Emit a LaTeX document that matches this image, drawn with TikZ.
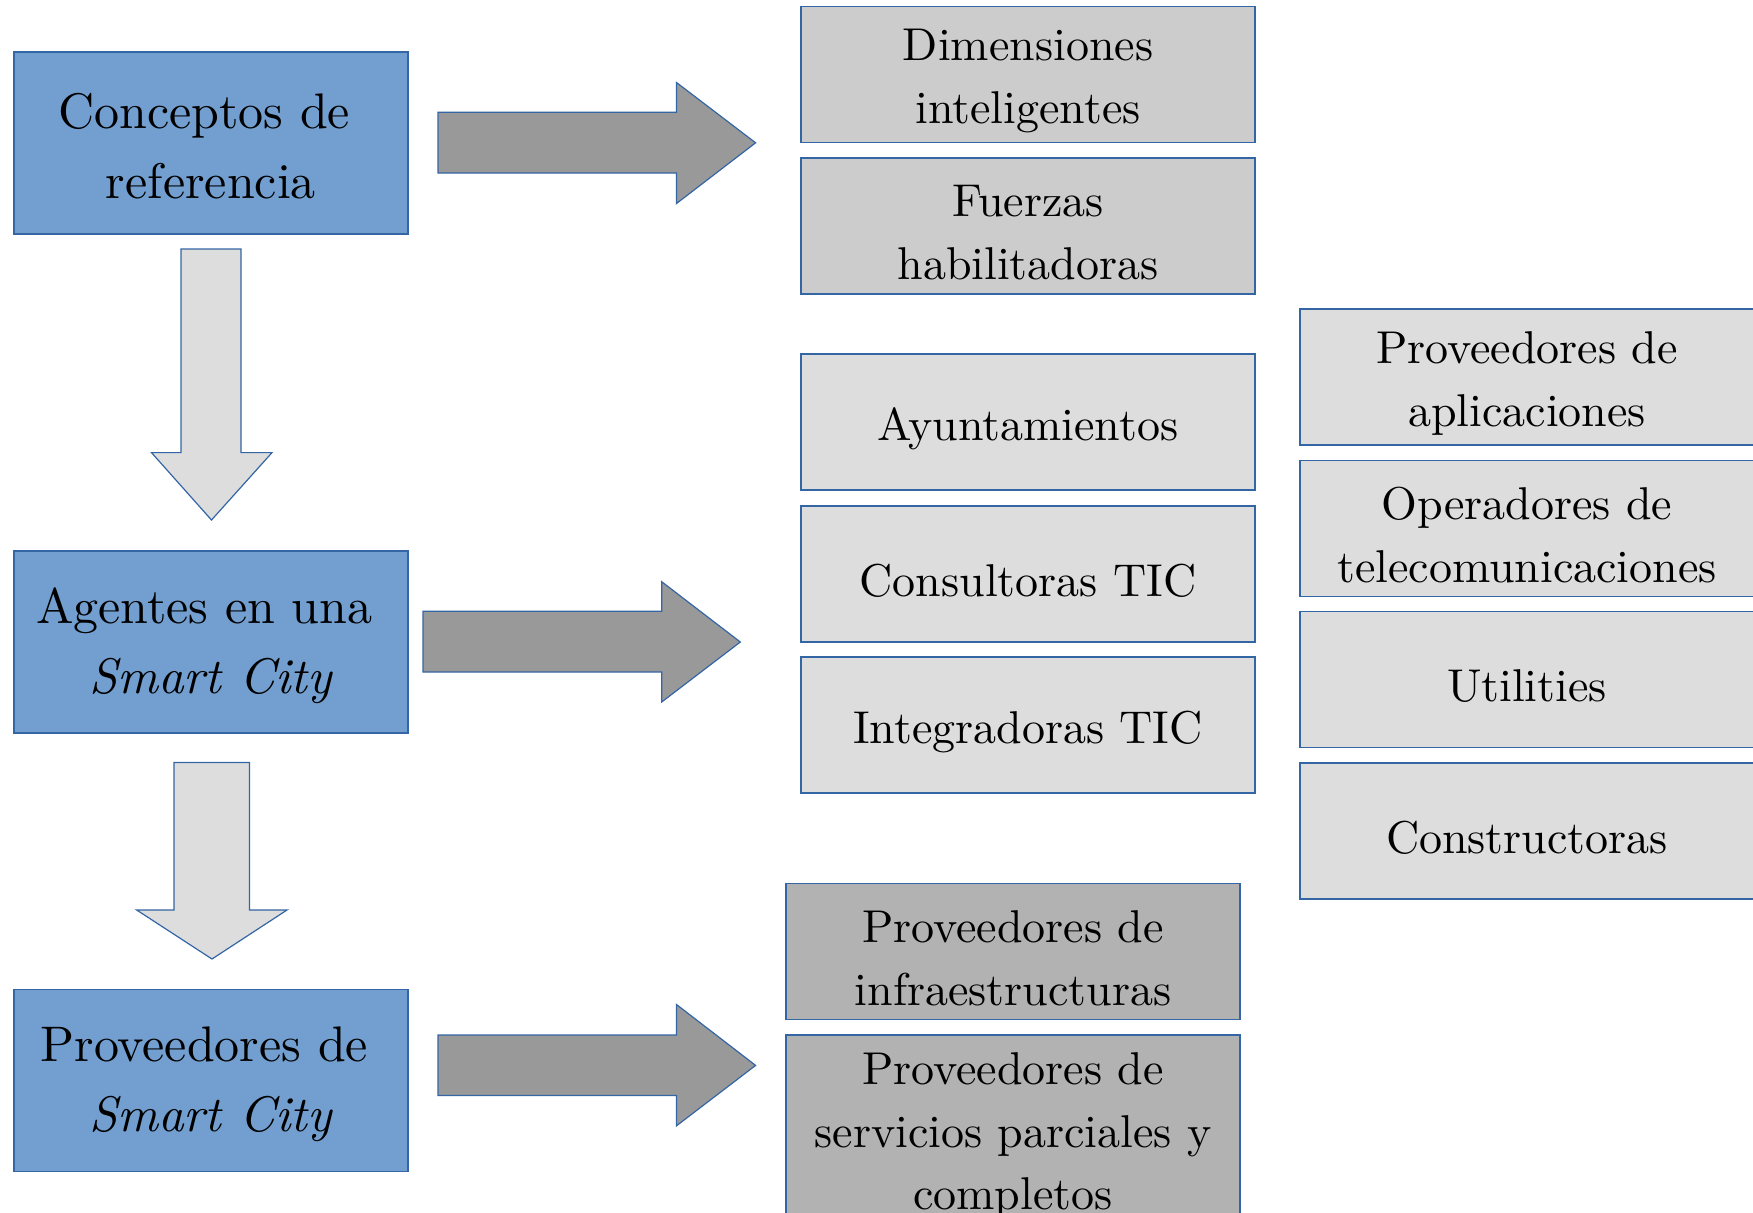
\documentclass[tikz,border=0pt]{standalone}
\usepackage{fontspec}
\setmainfont{lmroman10}[Extension=.otf, UprightFont=*-regular, ItalicFont=*-italic, BoldFont=*-bold]
\definecolor{bluefill}{HTML}{729FCF}
\definecolor{edge}{HTML}{3465A4}
\definecolor{darkarrow}{HTML}{999999}
\definecolor{lightgray}{HTML}{DDDDDD}
\definecolor{midgray}{HTML}{CCCCCC}
\definecolor{deepgray}{HTML}{B2B2B2}
\newcommand{\trail}{\hspace*{0.27em}}
\begin{document}
\begin{tikzpicture}[x=0.5pt,y=-0.5pt,
  box/.style={draw=edge, line width=0.6pt, inner sep=0pt, outer sep=0pt,
    minimum width=227pt, minimum height=68pt},
  bluebox/.style={box, fill=bluefill, minimum width=197pt, minimum height=91pt},
  txt/.style={inner sep=0pt, align=center, font=\fontsize{23}{31.3}\selectfont},
  bluetxt/.style={inner sep=0pt, align=center, font=\fontsize{25}{35}\selectfont},
  rarrow/.style={draw=edge, line width=0.6pt, fill=darkarrow, line join=miter},
  darrow/.style={draw=edge, line width=0.6pt, fill=lightgray, line join=miter}]
\useasboundingbox (0,0) rectangle (1753,1212);
\clip (0,0) rectangle (1753,1212);

% left column
\node[bluebox] (conc) at (211,143) {};
\node[bluetxt] (conct) at ([yshift=-1.7pt]conc.center) {Conceptos de\trail\\referencia};
\node[bluebox] (agen) at (211,642) {};
\node[bluetxt] (agent) at ([yshift=-1.7pt]agen.center) {Agentes en una\trail\\\textit{Smart City}};
\node[bluebox] (prov) at (211,1080.5) {};
\node[bluetxt] (provt) at ([yshift=-1.7pt]prov.center) {Proveedores de\trail\\\textit{Smart City}};

% down arrows
\draw[darrow] (181,249) -- (241,249) -- (241,452.6) -- (272,452.6) -- (211.5,520)
  -- (151.5,452.6) -- (181,452.6) -- cycle;
\draw[darrow] (174,762.5) -- (249.5,762.5) -- (249.5,910) -- (287,910) -- (212,959)
  -- (136.7,910) -- (174,910) -- cycle;

% right arrows
\draw[rarrow] (438,112.3) -- (676.5,112.3) -- (676.5,82.5) -- (755.6,142.8)
  -- (676.5,203.5) -- (676.5,173) -- (438,173) -- cycle;
\draw[rarrow] (423,611.3) -- (661.7,611.3) -- (661.7,581.7) -- (740.3,642)
  -- (661.7,702) -- (661.7,672) -- (423,672) -- cycle;
\draw[rarrow] (438,1035) -- (676.5,1035) -- (676.5,1004.5) -- (755.6,1065.4)
  -- (676.5,1125.8) -- (676.5,1095.4) -- (438,1095.4) -- cycle;

% middle column
\node[box, fill=midgray] (dim) at (1028,74.5) {};
\node[txt] (dimt) at ([yshift=-3.3pt]dim.center) {Dimensiones\\inteligentes};
\node[box, fill=midgray] (fue) at (1028,226) {};
\node[txt] (fuet) at ([yshift=-3.3pt]fue.center) {Fuerzas\\habilitadoras};
\node[box, fill=lightgray] (ayu) at (1028,422) {};
\node[txt] (ayut) at ([yshift=-3.3pt]ayu.center) {Ayuntamientos};
\node[box, fill=lightgray] (con) at (1028,574) {};
\node[txt] (cont) at ([yshift=-3.3pt]con.center) {Consultoras TIC};
\node[box, fill=lightgray] (int) at (1028,725) {};
\node[txt] (intt) at ([yshift=-3.3pt]int.center) {Integradoras TIC};
\node[box, fill=deepgray] (inf) at (1013,951.6) {};
\node[txt] (inft) at ([yshift=-3.3pt]inf.center) {Proveedores de\\infraestructuras};
\node[box, fill=deepgray, minimum height=94pt] (ser) at (1013,1129) {};
\node[txt] (sert) at ([yshift=-3.3pt]ser.center) {Proveedores de\\servicios parciales y\\completos};

% right column
\node[box, fill=lightgray] (apl) at (1527,377) {};
\node[txt] (aplt) at ([yshift=-3.3pt]apl.center) {Proveedores de\\aplicaciones};
\node[box, fill=lightgray] (ope) at (1527,528.5) {};
\node[txt] (opet) at ([yshift=-3.3pt]ope.center) {Operadores de\\telecomunicaciones};
\node[box, fill=lightgray] (uti) at (1527,679.5) {};
\node[txt] (utit) at ([yshift=-3.3pt]uti.center) {Utilities};
\node[box, fill=lightgray] (cst) at (1527,831) {};
\node[txt] (cstt) at ([yshift=-3.3pt]cst.center) {Constructoras};
\end{tikzpicture}
\end{document}
